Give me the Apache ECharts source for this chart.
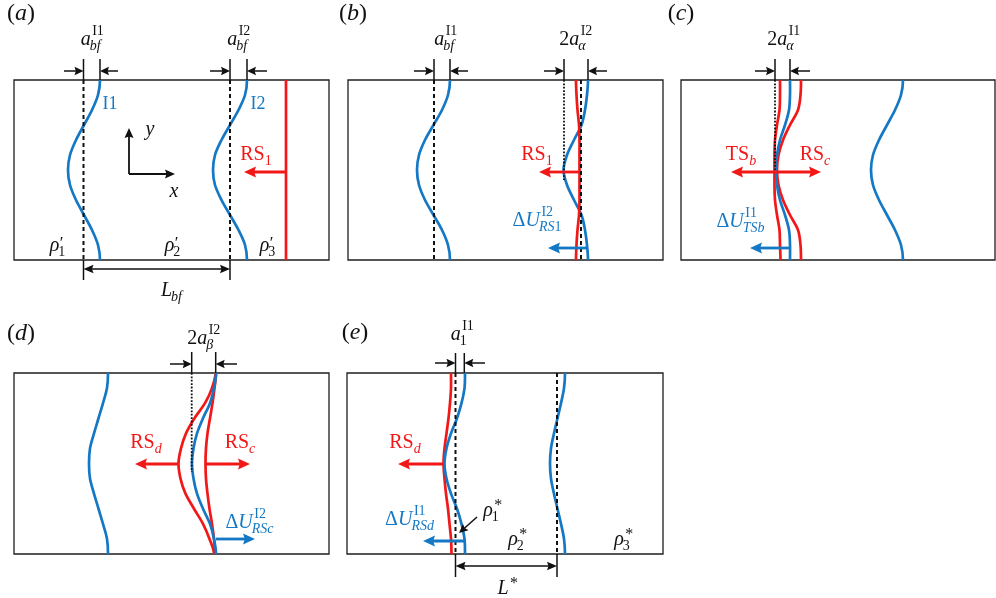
<!DOCTYPE html>
<html><head><meta charset="utf-8">
<script src="https://cdn.jsdelivr.net/npm/echarts@6/dist/echarts.min.js"></script>
<style>html,body{margin:0;padding:0;background:#fff}#c{width:996px;height:598px}</style>
</head><body><div id="c"></div>
<script>
// ---------- DATA ----------
// sample fractions along each box height (top -> bottom)
const T = [0, 0.0833, 0.1667, 0.25, 0.3333, 0.4167, 0.5, 0.5833, 0.6667, 0.75, 0.8333, 0.9167, 1];

// interface / shock x-positions (px from box's left edge) at the T samples
const aI1  = [86, 84, 78, 70, 62, 56, 54, 56, 62, 70, 78, 84, 86];
const aI2  = [233, 231, 224.5, 216, 207.5, 201, 199, 201, 207.5, 216, 224.5, 231, 233];
const bI1  = [102, 100, 94, 85.5, 77, 71, 69, 71, 77, 85.5, 94, 100, 102];
const bI2  = [240, 239, 237, 233.5, 226, 219, 215.5, 219, 226, 233.5, 237, 239, 240];
const bRS1 = [228, 228.5, 229.5, 231, 231.5, 231.5, 231.5, 231.5, 231.5, 231, 229.5, 228.5, 228];
const cTSb = [99, 99, 98.5, 96, 94, 93.5, 93.5, 93.5, 94, 96, 98.5, 99, 99.5];
const cI1  = [109, 109, 108, 104, 99, 96, 95, 96, 99, 104, 108, 109, 109];
const cRSc = [120, 119.5, 117, 109, 102, 97.5, 96, 97.5, 102, 109, 117, 119.5, 120];
const cI2  = [222, 220, 214, 206, 198, 192, 190, 192, 198, 206, 214, 220, 222];
const dI1  = [94, 93, 89, 84.5, 80, 76, 75, 76, 80, 84.5, 89, 93, 94];
const dRSd = [201.5, 198, 191, 180.5, 172, 167, 164.5, 166.5, 171.5, 180, 189, 195.5, 200];
const dI2  = [202, 200, 196, 189, 183, 179.5, 178, 179.5, 183, 189, 196, 200, 202];
const dRSc = [202, 200.5, 198.5, 196, 193.5, 192, 191.5, 192, 193.5, 195.5, 198, 200, 201];
const eRSd = [104, 104, 103, 101.5, 99.5, 97.5, 96.5, 97.5, 99, 101, 102.5, 104, 104.5];
const eI1  = [118, 117.5, 114.5, 110, 104, 99.5, 97.5, 99.5, 104, 110, 114.5, 117.5, 118];
const eI2  = [218, 217, 214, 210.5, 207, 204, 203, 204, 207, 210.5, 214, 217, 218];

// straight segments [x0, y0, x1, y1, kind]
const segsA = [[69.5,0,69.5,180,'dash'],[216,0,216,180,'dash'],[69.5,-21,69.5,0,'tick'],[86,-21,86,0,'tick'],[216,-21,216,0,'tick'],[233,-21,233,0,'tick'],[69.5,180,69.5,200,'tick'],[216,180,216,200,'tick'],[272,0,272,180,'red']];
const segsB = [[86,0,86,180,'dash'],[233,0,233,180,'dash'],[216,0,216,100,'dot'],[86,-21,86,0,'tick'],[102,-21,102,0,'tick'],[216,-21,216,0,'tick'],[240,-21,240,0,'tick']];
const segsC = [[94,0,94,90,'dot'],[94,-21,94,0,'tick'],[109,-21,109,0,'tick']];
const segsD = [[177.7,0,177.7,99,'dot'],[177.7,-21,177.7,0,'tick'],[201.7,-21,201.7,0,'tick']];
const segsE = [[108.5,0,108.5,181,'dash'],[210,0,210,181,'dash'],[108.5,-20,108.5,0,'tick'],[117.3,-20,117.3,0,'tick'],[108.5,181,108.5,204,'tick'],[210,181,210,204,'tick']];

// arrows [x0, y0, x1(tip), y1(tip), kind]
const arrowsA = [[50,-9,69.5,-9,'k'],[104,-9,86,-9,'k'],[196,-9,216,-9,'k'],[253,-9,233,-9,'k'],[69.5,189,216,189,'kd'],[115,94,115,48,'ax'],[115,94,161,94,'ax'],[272,92,230,92,'r']];
const arrowsB = [[66,-9,86,-9,'k'],[120,-9,102,-9,'k'],[196,-9,216,-9,'k'],[259,-9,240,-9,'k'],[231.5,92,191,92,'r'],[240,168,200,168,'b']];
const arrowsC = [[74,-9,94,-9,'k'],[129,-9,109,-9,'k'],[95,92,50,92,'r'],[95,92,140,92,'r'],[109,168,69,168,'b']];
const arrowsD = [[156,-9,177.7,-9,'k'],[223,-9,201.7,-9,'k'],[164.5,91,121,91,'r'],[191.5,91,236,91,'r'],[202,166,241,166,'b']];
const arrowsE = [[88,-10,108.5,-10,'k'],[138,-10,117.3,-10,'k'],[108.5,193,210,193,'kd'],[96.5,91,51,91,'r'],[118,168,76,168,'b'],[130,144,112,160,'k']];

// labels: markup (~ toggles italic, _{} subscript, ^{} superscript), centre x, baseline y
const labelsA = [
  {s:'(~a~)', x:7, y:-58, size:24},
  {s:'~a~_{~bf~}^{I1}', x:77.5, y:-33},
  {s:'~a~_{~bf~}^{I2}', x:224, y:-33},
  {s:'I1', x:96, y:30, c:'b', size:18},
  {s:'I2', x:244, y:30, c:'b', size:18},
  {s:'~y~', x:136, y:57},
  {s:'~x~', x:160, y:119},
  {s:'RS_{1}', x:242, y:82, c:'r'},
  {s:'~ρ~_{1}^{′}', x:44, y:173},
  {s:'~ρ~_{2}^{′}', x:159, y:173},
  {s:'~ρ~_{3}^{′}', x:254, y:173},
  {s:'~L~_{~bf~}', x:158, y:218}
];
const labelsB = [
  {s:'(~b~)', x:5, y:-58, size:24},
  {s:'~a~_{~bf~}^{I1}', x:97, y:-33},
  {s:'2~a~_{~α~}^{I2}', x:227, y:-33},
  {s:'RS_{1}', x:189, y:82, c:'r'},
  {s:'Δ~U~_{~RS~1}^{I2}', x:189.5, y:148, c:'b'}
];
const labelsC = [
  {s:'(~c~)', x:0, y:-58, size:24},
  {s:'2~a~_{~α~}^{I1}', x:102, y:-33},
  {s:'TS_{~b~}', x:60, y:82, c:'r'},
  {s:'RS_{~c~}', x:134, y:82, c:'r'},
  {s:'Δ~U~_{~TSb~}^{I1}', x:60, y:149, c:'b'}
];
const labelsD = [
  {s:'(~d~)', x:7, y:-31, size:24},
  {s:'2~a~_{~β~}^{I2}', x:189, y:-27},
  {s:'RS_{~d~}', x:132, y:77, c:'r'},
  {s:'RS_{~c~}', x:226, y:77, c:'r'},
  {s:'Δ~U~_{~RSc~}^{I2}', x:236, y:157, c:'b'}
];
const labelsE = [
  {s:'(~e~)', x:8, y:-32, size:24},
  {s:'~a~_{1}^{I1}', x:114.5, y:-31},
  {s:'RS_{~d~}', x:58, y:77, c:'r'},
  {s:'Δ~U~_{~RSd~}^{I1}', x:63, y:154, c:'b'},
  {s:'~ρ~_{1}^{*}', x:145, y:145},
  {s:'~ρ~_{2}^{*}', x:170, y:174},
  {s:'~ρ~_{3}^{*}', x:276, y:174},
  {s:'~L~^{*}', x:160, y:223}
];

// ---------- LAYOUT / STYLE ----------
const BLUE = '#1478c4', RED = '#f21818', INK = '#111';
const COL = {b: BLUE, r: RED, k: INK};
const FONT = 'Liberation Serif';
const PANELS = [
  {left:14,  top:80,  w:315, h:180, curves:[[aI1,'b'],[aI2,'b']], segs:segsA, arrows:arrowsA, labels:labelsA},
  {left:348, top:80,  w:315, h:180, curves:[[bI1,'b'],[bI2,'b'],[bRS1,'r']], segs:segsB, arrows:arrowsB, labels:labelsB},
  {left:681, top:80,  w:314, h:180, curves:[[cI2,'b'],[cTSb,'r'],[cRSc,'r'],[cI1,'b']], segs:segsC, arrows:arrowsC, labels:labelsC},
  {left:14,  top:373, w:315, h:181, curves:[[dI1,'b'],[dRSd,'r'],[dRSc,'r'],[dI2,'b']], segs:segsD, arrows:arrowsD, labels:labelsD},
  {left:347, top:373, w:316, h:181, curves:[[eI2,'b'],[eRSd,'r'],[eI1,'b']], segs:segsE, arrows:arrowsE, labels:labelsE}
];
const SEG_STYLE = {
  dash: {c: INK, w: 2, dash: [4, 3]},
  dot:  {c: INK, w: 1.8, dash: [1.8, 1.6]},
  tick: {c: INK, w: 1.5},
  red:  {c: RED, w: 2.7}
};
const ARROW_STYLE = {
  k:  {c: INK, w: 1.5, L: 9, hw: 4.2},
  kd: {c: INK, w: 1.5, L: 10, hw: 4.2, dbl: true},
  ax: {c: INK, w: 1.8, L: 10, hw: 4.5},
  r:  {c: RED, w: 2.8, L: 12, hw: 5.5},
  b:  {c: BLUE, w: 2.8, L: 12, hw: 5.5}
};

// ---------- TEXT HELPERS ----------
const mctx = document.createElement('canvas').getContext('2d');
function textW(t, size, it) { mctx.font = (it ? 'italic ' : '') + size + 'px "' + FONT + '"'; return mctx.measureText(t).width; }
function segsOf(s) { return s.split('~').map((t, i) => ({t, it: i % 2 === 1})).filter(p => p.t.length); }
function parse(str) {
  const sb = str.match(/_\{([^}]*)\}/), sp = str.match(/\^\{([^}]*)\}/);
  const main = str.replace(/_\{[^}]*\}/, '').replace(/\^\{[^}]*\}/, '');
  return {main: segsOf(main), sub: segsOf(sb ? sb[1] : ''), sup: segsOf(sp ? sp[1] : '')};
}
function buildLabel(L, px, py) {
  const size = L.size || 20, ss = 14, color = COL[L.c || 'k'];
  const P = parse(L.s);
  const supT = P.sup.length === 1 ? P.sup[0].t : '';
  const isPrime = supT === '′', isStar = supT === '*';
  const supSize = isPrime ? 17 : (isStar ? 16 : ss);
  const supShift = isPrime ? -4 : (isStar ? -7 : -11);
  const w = (arr, sz) => arr.reduce((a, p) => a + textW(p.t, sz, p.it), 0);
  const mW = w(P.main, size), sW = w(P.sub, ss), pW = w(P.sup, supSize);
  const x0 = px - (mW + Math.max(sW, pW)) / 2;
  const out = [];
  const put = (arr, sz, xs, base) => {
    let xx = xs;
    arr.forEach(p => {
      out.push({type: 'text', x: xx, y: base - 0.34 * sz, silent: true,
        style: {text: p.t, fontSize: sz, fontFamily: FONT, fontStyle: p.it ? 'italic' : 'normal', fill: color, align: 'left', verticalAlign: 'middle'}});
      xx += textW(p.t, sz, p.it);
    });
  };
  const mainItalic = P.main.length && P.main[P.main.length - 1].it;
  put(P.main, size, x0, py);
  put(P.sub, ss, x0 + mW - (mainItalic ? 1 : 0), py + 4);
  put(P.sup, supSize, x0 + mW + (mainItalic ? 1.5 : 0.5) - (isPrime ? 1 : 0), py + supShift);
  return out;
}

// smooth path through the data points (Catmull-Rom -> cubic Bezier), drawn in pixel space
function curvePath(P) {
  const n = P.length;
  const get = k => k < 0 ? [P[-k][0], 2 * P[0][1] - P[-k][1]]
                 : k >= n ? [P[2 * (n - 1) - k][0], 2 * P[n - 1][1] - P[2 * (n - 1) - k][1]] : P[k];
  let d = 'M' + P[0][0] + ' ' + P[0][1];
  for (let k = 0; k < n - 1; k++) {
    const p0 = get(k - 1), p1 = P[k], p2 = P[k + 1], p3 = get(k + 2);
    d += ' C' + (p1[0] + (p2[0] - p0[0]) / 6) + ' ' + (p1[1] + (p2[1] - p0[1]) / 6) + ' '
         + (p2[0] - (p3[0] - p1[0]) / 6) + ' ' + (p2[1] - (p3[1] - p1[1]) / 6) + ' ' + p2[0] + ' ' + p2[1];
  }
  return d;
}

// ---------- BUILD OPTION ----------
const grids = [], xAxes = [], yAxes = [], series = [];
PANELS.forEach((p, i) => {
  grids.push({left: p.left, top: p.top, width: p.w, height: p.h, show: true, borderColor: '#1e1e1e', borderWidth: 1.3, backgroundColor: 'transparent', containLabel: false});
  xAxes.push({type: 'value', gridIndex: i, min: 0, max: p.w, show: false});
  yAxes.push({type: 'value', gridIndex: i, min: 0, max: p.h, inverse: true, show: false});
  p.curves.forEach(([xs, c]) => {
    const pts = xs.map((x, k) => [x, T[k] * p.h]);
    series.push({type: 'custom', coordinateSystem: 'cartesian2d', xAxisIndex: i, yAxisIndex: i, clip: false, silent: true, animation: false, z: 3,
      data: [pts[0]],
      renderItem: (params, api) => ({type: 'path', shape: {pathData: curvePath(pts.map(q => api.coord(q)))},
        style: {stroke: COL[c], lineWidth: 2.7, fill: null, lineCap: 'butt'}})});
  });
  const segs = p.segs, arrows = p.arrows, labels = p.labels;
  series.push({type: 'custom', coordinateSystem: 'cartesian2d', xAxisIndex: i, yAxisIndex: i, clip: false, silent: true, animation: false, z: 4,
    data: segs.map(s => [s[0], s[1]]),
    renderItem: (params, api) => {
      const s = segs[params.dataIndex], st = SEG_STYLE[s[4]];
      const a = api.coord([s[0], s[1]]), b = api.coord([s[2], s[3]]);
      return {type: 'line', shape: {x1: a[0], y1: a[1], x2: b[0], y2: b[1]},
        style: {stroke: st.c, lineWidth: st.w, lineDash: st.dash || null, fill: null}};
    }});
  series.push({type: 'custom', coordinateSystem: 'cartesian2d', xAxisIndex: i, yAxisIndex: i, clip: false, silent: true, animation: false, z: 5,
    data: arrows.map(s => [s[0], s[1]]),
    renderItem: (params, api) => {
      const A = arrows[params.dataIndex], st = ARROW_STYLE[A[4]];
      const p0 = api.coord([A[0], A[1]]), p1 = api.coord([A[2], A[3]]);
      const dx = p1[0] - p0[0], dy = p1[1] - p0[1], len = Math.hypot(dx, dy);
      const ux = dx / len, uy = dy / len, nx = -uy, ny = ux;
      const head = (tx, ty, dxu, dyu) => ({type: 'polygon', shape: {points: [
        [tx, ty], [tx - dxu * st.L + nx * st.hw, ty - dyu * st.L + ny * st.hw],
        [tx - dxu * st.L * 0.85, ty - dyu * st.L * 0.85],
        [tx - dxu * st.L - nx * st.hw, ty - dyu * st.L - ny * st.hw]]}, style: {fill: st.c}});
      const s0 = st.dbl ? [p0[0] + ux * st.L * 0.8, p0[1] + uy * st.L * 0.8] : p0;
      const children = [
        {type: 'line', shape: {x1: s0[0], y1: s0[1], x2: p1[0] - ux * st.L * 0.8, y2: p1[1] - uy * st.L * 0.8}, style: {stroke: st.c, lineWidth: st.w}},
        head(p1[0], p1[1], ux, uy)
      ];
      if (st.dbl) children.push(head(p0[0], p0[1], -ux, -uy));
      return {type: 'group', children};
    }});
  series.push({type: 'custom', coordinateSystem: 'cartesian2d', xAxisIndex: i, yAxisIndex: i, clip: false, silent: true, animation: false, z: 6,
    data: labels.map(l => [l.x, l.y]),
    renderItem: (params, api) => {
      const L = labels[params.dataIndex], pt = api.coord([L.x, L.y]);
      return {type: 'group', children: buildLabel(L, pt[0], pt[1])};
    }});
});

const chart = echarts.init(document.getElementById('c'), null, {renderer: 'canvas', width: 996, height: 598});
chart.setOption({backgroundColor: '#fff', animation: false, grid: grids, xAxis: xAxes, yAxis: yAxes, series});
</script></body></html>
